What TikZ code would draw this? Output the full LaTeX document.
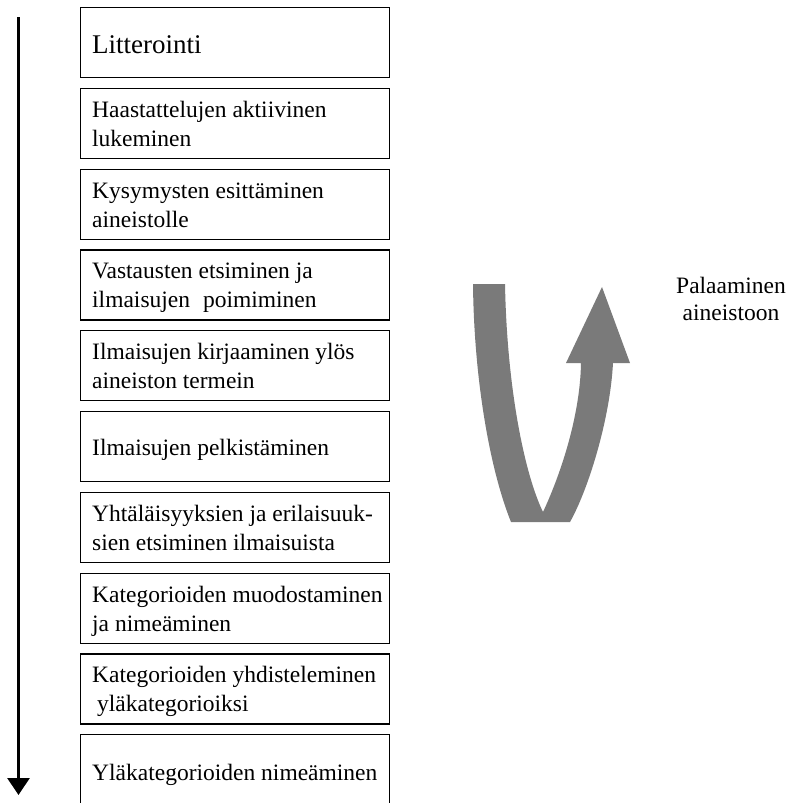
\documentclass[tikz,border=0pt]{standalone}
\usepackage{fontspec}
\setmainfont{Liberation Serif}
\usetikzlibrary{arrows.meta}

\begin{document}
\begin{tikzpicture}[x=1pt,y=-1pt,
  stepbox/.style={draw=black, line width=1.2pt, rectangle, inner sep=0pt,
    minimum width=309pt, minimum height=70pt, anchor=north west},
  steptext/.style={anchor=base west, inner sep=0pt,
    font=\fontsize{23.5}{29}\selectfont},
  titletext/.style={anchor=base west, inner sep=0pt,
    font=\fontsize{27}{32}\selectfont},
  flowarrow/.style={line width=2.7pt, -{Triangle[width=22pt,length=17pt]}},
  uturn/.style={fill=black!52, draw=none},
  returnlabel/.style={anchor=base, inner sep=0pt, align=center,
    font=\fontsize{23.5}{27}\selectfont}
]
\useasboundingbox (0,0) rectangle (793,803);
\clip (0,0) rectangle (793,803);

% the process steps, top to bottom
\node[stepbox] (s1)  at (80,7)     {};
\node[stepbox] (s2)  at (80,87.8)  {};
\node[stepbox] (s3)  at (80,168.6) {};
\node[stepbox] (s4)  at (80,249.4) {};
\node[stepbox] (s5)  at (80,330.2) {};
\node[stepbox] (s6)  at (80,411)   {};
\node[stepbox] (s7)  at (80,491.8) {};
\node[stepbox] (s8)  at (80,572.6) {};
\node[stepbox] (s9)  at (80,653.4) {};
\node[stepbox] (s10) at (80,734.2) {};

\node[titletext] (t1) at ([xshift=12pt,yshift=-46pt]s1.north west) {Litterointi};
\node[steptext] (t2) at ([xshift=12pt,yshift=-29.5pt]s2.north west)
  {\parbox[t]{292pt}{\raggedright Haastattelujen aktiivinen\\lukeminen}};
\node[steptext] (t3) at ([xshift=12pt,yshift=-29.5pt]s3.north west)
  {\parbox[t]{292pt}{\raggedright Kysymysten esittäminen\\aineistolle}};
\node[steptext] (t4) at ([xshift=12pt,yshift=-29.5pt]s4.north west)
  {\parbox[t]{292pt}{\raggedright Vastausten etsiminen ja\\ilmaisujen\hspace{0.3em} poimiminen}};
\node[steptext] (t5) at ([xshift=12pt,yshift=-29.5pt]s5.north west)
  {\parbox[t]{292pt}{\raggedright Ilmaisujen kirjaaminen ylös\\aineiston termein}};
\node[steptext] (t6) at ([xshift=12pt,yshift=-44pt]s6.north west) {Ilmaisujen pelkistäminen};
\node[steptext] (t7) at ([xshift=12pt,yshift=-29.5pt]s7.north west)
  {\parbox[t]{292pt}{\raggedright Yhtäläisyyksien ja erilaisuuk-\\sien etsiminen ilmaisuista}};
\node[steptext] (t8) at ([xshift=12pt,yshift=-29.5pt]s8.north west)
  {\parbox[t]{292pt}{\raggedright Kategorioiden muodostaminen\\ja nimeäminen}};
\node[steptext] (t9) at ([xshift=12pt,yshift=-29.5pt]s9.north west)
  {\parbox[t]{292pt}{\raggedright Kategorioiden yhdisteleminen\\\hspace*{5pt}yläkategorioiksi}};
\node[steptext] (t10) at ([xshift=12pt,yshift=-46pt]s10.north west) {Yläkategorioiden nimeäminen};

% direction of the process
\coordinate (flowtop) at (18.5,17);
\coordinate (flowend) at (18.5,795);
\draw[flowarrow] (flowtop) -- (flowend);

% U-turn arrow: going back to the data
\fill[uturn] (473,284) -- (505,284)
  .. controls (507,390) and (525,475) .. (543,512)
  .. controls (558,480) and (580,420) .. (581,363)
  -- (566,363) -- (602,287) -- (630,363) -- (613,363)
  .. controls (610,420) and (588,490) .. (570,522)
  -- (511,522)
  .. controls (490,470) and (474,380) .. (473,284) -- cycle;

\node[returnlabel] (ret) at (731,320) {Palaaminen\\aineistoon};
\end{tikzpicture}
\end{document}
